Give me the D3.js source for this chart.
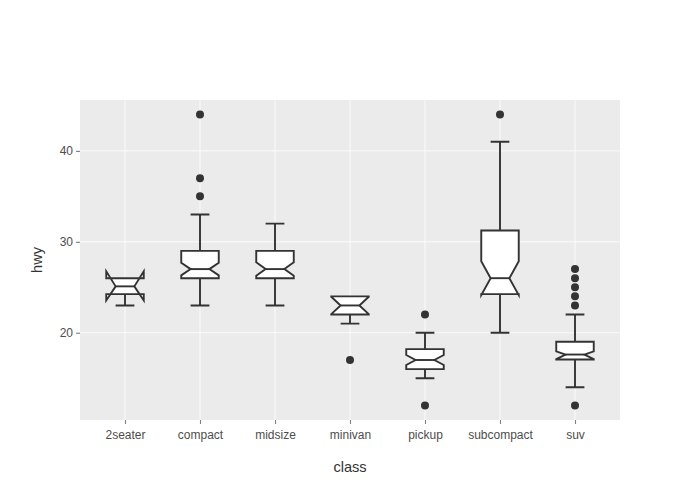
<!DOCTYPE html>
<html>
<head>
<meta charset="utf-8">
<script src="https://cdn.jsdelivr.net/npm/d3@7.9.0/dist/d3.min.js"></script>
<style>
  body { margin: 0; background: #fff; }
  svg { font-family: "Liberation Sans", Arial, sans-serif; }
</style>
</head>
<body>
<div id="chart"></div>
<script>
// hwy by class, notched boxplot
const classes    = ['2seater', 'compact', 'midsize', 'minivan', 'pickup', 'subcompact', 'suv'];
const lowerWhisk = [23, 23, 23, 21, 15, 20, 14];
const q1         = [24.25, 26, 26, 22, 16, 24.25, 17.05];
const medians    = [25.1, 27, 27, 23, 17, 26, 17.6];
const q3         = [26, 29, 29, 24, 18.2, 31.25, 19];
const upperWhisk = [26, 33, 32, 24, 20, 41, 22];
const notchLow   = [23.55, 26.31, 26.26, 22.05, 16.45, 24.14, 17.1];
const notchHigh  = [26.75, 27.69, 27.74, 23.95, 17.55, 27.86, 17.95];
const outliers = [
  ['compact', 35], ['compact', 37], ['compact', 44],
  ['minivan', 17],
  ['pickup', 12], ['pickup', 22],
  ['subcompact', 44],
  ['suv', 12], ['suv', 23], ['suv', 24], ['suv', 25], ['suv', 26], ['suv', 27]
];
const yTicks = [20, 30, 40];

const width = 700, height = 500;
const margin = { top: 100, right: 80, bottom: 80, left: 80 };
const usable = {
  left: margin.left,
  right: width - margin.right,
  top: margin.top,
  bottom: height - margin.bottom
};

const svg = d3.select('#chart')
  .append('svg')
    .attr('width', width)
    .attr('height', height);

const xScale = d3.scalePoint()
  .domain(classes)
  .range([usable.left, usable.right])
  .padding(0.6);

const yScale = d3.scaleLinear()
  .domain([10.4, 45.6])
  .range([usable.bottom, usable.top]);

const step = xScale.step();
const boxW = step * 0.5;

// panel
svg.append('rect')
  .attr('x', usable.left)
  .attr('y', usable.top)
  .attr('width', usable.right - usable.left)
  .attr('height', usable.bottom - usable.top)
  .attr('fill', '#ebebeb');

// gridlines
const grid = svg.append('g').attr('class', 'grid');
grid.selectAll('line.h')
  .data(yTicks)
  .join('line')
    .attr('class', 'h')
    .attr('x1', usable.left).attr('x2', usable.right)
    .attr('y1', d => yScale(d)).attr('y2', d => yScale(d))
    .attr('stroke', '#fff').attr('stroke-width', 0.8);
grid.selectAll('line.v')
  .data(classes)
  .join('line')
    .attr('class', 'v')
    .attr('y1', usable.top).attr('y2', usable.bottom)
    .attr('x1', d => xScale(d)).attr('x2', d => xScale(d))
    .attr('stroke', '#fff').attr('stroke-width', 0.8);

// axes
const yAxis = svg.append('g')
  .attr('transform', `translate(${usable.left},0)`)
  .call(d3.axisLeft(yScale).tickValues(yTicks).tickSize(4).tickPadding(3));
const xAxis = svg.append('g')
  .attr('transform', `translate(0,${usable.bottom})`)
  .call(d3.axisBottom(xScale).tickSize(4).tickPadding(6));

[yAxis, xAxis].forEach(ax => {
  ax.select('.domain').remove();
  ax.selectAll('.tick line').attr('stroke', '#7f7f7f').attr('stroke-width', 1.1);
  ax.selectAll('.tick text')
    .attr('fill', '#4d4d4d')
    .style('font-size', '12px')
    .style('font-family', '"Liberation Sans", Arial, sans-serif');
});

// axis titles
svg.append('text')
  .attr('x', (usable.left + usable.right) / 2)
  .attr('y', 472)
  .attr('text-anchor', 'middle')
  .attr('fill', '#333')
  .style('font-size', '14.6px')
  .text('class');
svg.append('text')
  .attr('transform', `translate(42,${(usable.top + usable.bottom) / 2}) rotate(-90)`)
  .attr('text-anchor', 'middle')
  .attr('fill', '#333')
  .style('font-size', '14.6px')
  .text('hwy');

// boxes
const boxes = classes.map((c, i) => ({
  c, lo: lowerWhisk[i], q1: q1[i], med: medians[i], q3: q3[i], hi: upperWhisk[i],
  nl: notchLow[i], nh: notchHigh[i]
}));

const g = svg.append('g').attr('class', 'boxes');
const stroke = '#333333';
const sw = 1.9;

const box = g.selectAll('g.box')
  .data(boxes)
  .join('g')
    .attr('class', 'box');

// whiskers (skip when the whisker has no length)
box.append('path')
  .attr('d', d => {
    const cx = xScale(d.c), cap = boxW / 2;
    let p = '';
    if (d.lo < d.q1) p += `M${cx},${yScale(d.q1)}V${yScale(d.lo)}M${cx - cap / 2},${yScale(d.lo)}H${cx + cap / 2}`;
    if (d.hi > d.q3) p += `M${cx},${yScale(d.q3)}V${yScale(d.hi)}M${cx - cap / 2},${yScale(d.hi)}H${cx + cap / 2}`;
    return p;
  })
  .attr('fill', 'none')
  .attr('stroke', stroke)
  .attr('stroke-width', sw);

// notched box
box.append('path')
  .attr('d', d => {
    const cx = xScale(d.c), l = cx - boxW / 2, r = cx + boxW / 2, n = boxW / 4;
    return `M${l},${yScale(d.q1)}L${l},${yScale(d.nl)}L${l + n},${yScale(d.med)}L${l},${yScale(d.nh)}` +
           `L${l},${yScale(d.q3)}L${r},${yScale(d.q3)}L${r},${yScale(d.nh)}L${r - n},${yScale(d.med)}` +
           `L${r},${yScale(d.nl)}L${r},${yScale(d.q1)}Z`;
  })
  .attr('fill', '#fff')
  .attr('stroke', stroke)
  .attr('stroke-width', sw)
  .attr('stroke-linejoin', 'miter');

// median
box.append('line')
  .attr('x1', d => xScale(d.c) - boxW / 4)
  .attr('x2', d => xScale(d.c) + boxW / 4)
  .attr('y1', d => yScale(d.med))
  .attr('y2', d => yScale(d.med))
  .attr('stroke', stroke)
  .attr('stroke-width', sw);

// outliers
g.selectAll('circle')
  .data(outliers)
  .join('circle')
    .attr('cx', d => xScale(d[0]))
    .attr('cy', d => yScale(d[1]))
    .attr('r', 4)
    .attr('fill', '#333333');
</script>
</body>
</html>
